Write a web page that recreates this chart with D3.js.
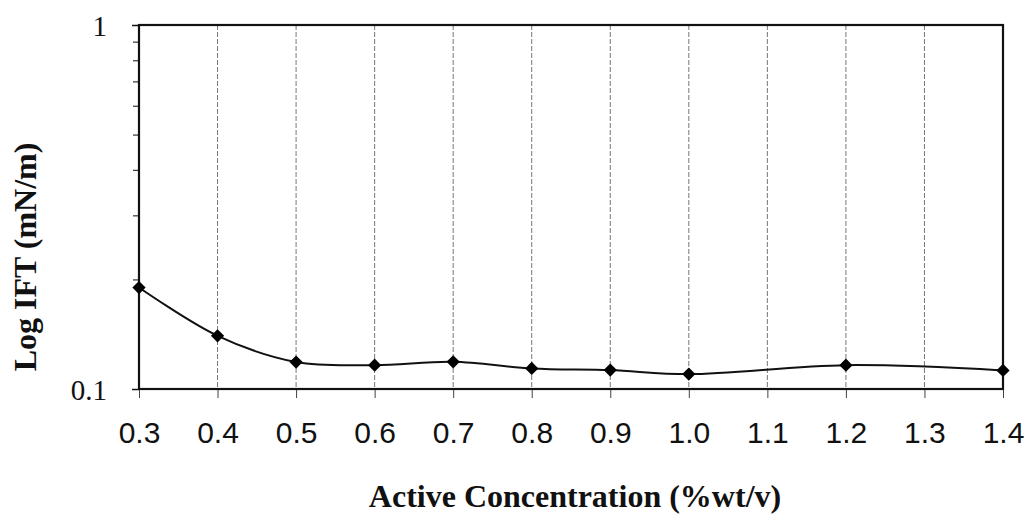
<!DOCTYPE html>
<html>
<head>
<meta charset="utf-8">
<script src="https://cdn.jsdelivr.net/npm/d3@7"></script>
<style>
  html, body { margin: 0; padding: 0; background: #fff; }
  svg { display: block; }
  .x-tick text { font-family: "Liberation Sans", Arial, sans-serif; font-size: 30px; fill: #111; }
  .y-tick text { font-family: "Liberation Serif", "Times New Roman", serif; font-size: 29px; fill: #111; }
  .axis-title { font-family: "Liberation Serif", "Times New Roman", serif; font-size: 32px; font-weight: bold; fill: #111; }
</style>
</head>
<body>
<div id="chart"></div>
<script>
  // data
  const concentration = [0.3, 0.4, 0.5, 0.6, 0.7, 0.8, 0.9, 1.0, 1.2, 1.4];
  const ift = [0.190, 0.140, 0.1186, 0.1163, 0.1188, 0.1139, 0.1127, 0.1099, 0.1163, 0.1125];
  const xTicks = [0.3, 0.4, 0.5, 0.6, 0.7, 0.8, 0.9, 1.0, 1.1, 1.2, 1.3, 1.4];
  const yLabelTicks = [0.1, 1];
  const yMinorTicks = [0.2, 0.3, 0.4, 0.5, 0.6, 0.7, 0.8, 0.9];

  const W = 1024, H = 523;
  const margin = { top: 25, right: 21, bottom: 134, left: 139 };
  const width = W - margin.left - margin.right;
  const height = H - margin.top - margin.bottom;

  const chartData = concentration.map((c, i) => ({ c: c, v: ift[i] }));

  const svg = d3.select("#chart")
      .append("svg")
      .attr("width", W)
      .attr("height", H);

  const g = svg.append("g")
      .attr("transform", `translate(${margin.left},${margin.top})`);

  const x = d3.scaleLinear()
      .domain([0.3, 1.4])
      .range([0, width]);

  const y = d3.scaleLog()
      .domain([0.1, 1])
      .range([height, 0]);

  // vertical dashed grid
  g.append("g")
      .selectAll("line")
      .data(xTicks.slice(1, -1))
      .join("line")
      .attr("x1", d => x(d))
      .attr("x2", d => x(d))
      .attr("y1", 0)
      .attr("y2", height)
      .attr("stroke", "#777")
      .attr("stroke-width", 1)
      .attr("stroke-dasharray", "5,2");

  // x axis
  const xAxis = d3.axisBottom(x)
      .tickValues(xTicks)
      .tickFormat(d3.format(".1f"))
      .tickSize(9)
      .tickPadding(24);

  const gx = g.append("g")
      .attr("class", "x-tick")
      .attr("transform", `translate(0,${height})`)
      .call(xAxis);
  gx.select(".domain").remove();
  gx.selectAll(".tick line").attr("stroke", "#444").attr("stroke-width", 1);

  // y axis, labelled decades
  const yAxis = d3.axisLeft(y)
      .tickValues(yLabelTicks)
      .tickFormat(d => d === 1 ? "1" : "0.1")
      .tickSize(7)
      .tickPadding(25);

  const gy = g.append("g")
      .attr("class", "y-tick")
      .call(yAxis);
  gy.select(".domain").remove();
  gy.selectAll(".tick line").attr("stroke", "#111").attr("stroke-width", 1.5);
  gy.selectAll(".tick text").attr("dy", "0.36em");

  // minor log ticks
  const yMinor = d3.axisLeft(y)
      .tickValues(yMinorTicks)
      .tickFormat("")
      .tickSize(6);
  const gym = g.append("g").call(yMinor);
  gym.select(".domain").remove();
  gym.selectAll(".tick line").attr("stroke", "#333").attr("stroke-width", 1.2);

  // frame
  g.append("rect")
      .attr("x", 0)
      .attr("y", 0)
      .attr("width", width)
      .attr("height", height)
      .attr("fill", "none")
      .attr("stroke", "#111")
      .attr("stroke-width", 2.2);

  // smoothed line
  const line = d3.line()
      .x(d => x(d.c))
      .y(d => y(d.v))
      .curve(d3.curveCatmullRom.alpha(0.5));

  g.append("path")
      .datum(chartData)
      .attr("fill", "none")
      .attr("stroke", "#111")
      .attr("stroke-width", 2)
      .attr("d", line);

  // diamond markers (square turned 45deg)
  const marker = d3.symbol().type(d3.symbolSquare).size(88);
  g.append("g")
      .selectAll("path")
      .data(chartData)
      .join("path")
      .attr("transform", d => `translate(${x(d.c)},${y(d.v)}) rotate(45)`)
      .attr("d", marker)
      .attr("fill", "#000");

  // axis titles
  svg.append("text")
      .attr("class", "axis-title")
      .attr("x", margin.left + width / 2 + 4)
      .attr("y", 507)
      .attr("text-anchor", "middle")
      .text("Active Concentration (%wt/v)");

  svg.append("text")
      .attr("class", "axis-title")
      .attr("transform", `translate(36,${257}) rotate(-90)`)
      .attr("text-anchor", "middle")
      .text("Log IFT (mN/m)");
</script>
</body>
</html>
